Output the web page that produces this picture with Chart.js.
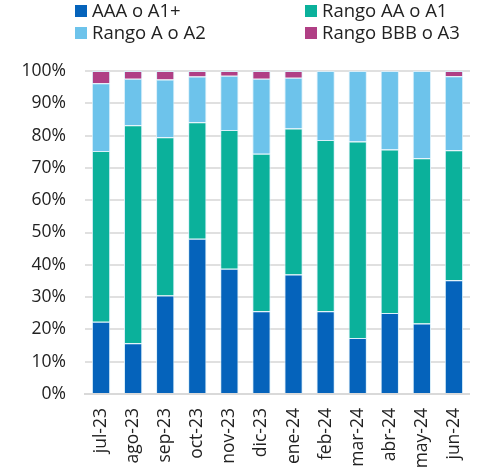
<!DOCTYPE html>
<html>
<head>
<meta charset="utf-8">
<script src="https://cdn.jsdelivr.net/npm/chart.js@4"></script>
<style>
  html, body { margin: 0; padding: 0; background: #fff; }
  #wrap { position: relative; width: 489px; height: 468px; font-family: "Open Sans", "Noto Sans", sans-serif; }
  #legend { position: absolute; left: 0; top: 0; width: 489px; height: 60px; font-size: 18.5px; color: #222; }
  .item { position: absolute; white-space: nowrap; line-height: 22px; }
  .box { display: inline-block; width: 12px; height: 12px; margin-right: 5px; vertical-align: 0px; }
</style>
</head>
<body>
<div id="wrap">
  <canvas id="barChart" width="489" height="468"></canvas>
  <div id="legend"></div>
</div>
<script>
const labels = ['jul-23', 'ago-23', 'sep-23', 'oct-23', 'nov-23', 'dic-23', 'ene-24', 'feb-24', 'mar-24', 'abr-24', 'may-24', 'jun-24'];
const aaa = [22.4, 15.7, 30.5, 48.1, 38.8, 25.6, 37.0, 25.6, 17.3, 25.1, 21.8, 35.2];
const aa  = [52.8, 67.5, 49.0, 36.0, 42.9, 48.8, 45.2, 53.0, 60.9, 50.6, 51.2, 40.3];
const a   = [21.0, 14.4, 17.9, 14.2, 16.8, 23.2, 15.7, 21.4, 21.8, 24.3, 27.0, 22.9];
const bbb = [3.8, 2.4, 2.6, 1.7, 1.5, 2.4, 2.1, 0, 0, 0, 0, 1.6];

const seriesNames = ['AAA o A1+', 'Rango AA o A1', 'Rango A o A2', 'Rango BBB o A3'];
const seriesColors = ['#0563bb', '#0bb19b', '#6dc3eb', '#b03f85'];

// legend laid out in two columns like the original
const legendPos = [[75, -1], [305, -1], [75, 21], [305, 21]];
const legendEl = document.getElementById('legend');
seriesNames.forEach((name, i) => {
  const d = document.createElement('div');
  d.className = 'item';
  d.style.left = legendPos[i][0] + 'px';
  d.style.top = legendPos[i][1] + 'px';
  d.innerHTML = '<span class="box" style="background:' + seriesColors[i] + '"></span>' + name;
  legendEl.appendChild(d);
});

const values = [aaa, aa, a, bbb];
const datasets = values.map((v, i) => ({
  label: seriesNames[i],
  data: v,
  backgroundColor: seriesColors[i],
  borderColor: 'rgba(215,238,250,0.9)',
  borderWidth: 1,
  barPercentage: 0.57,
  categoryPercentage: 1
}));

const tickFont = { family: '"Open Sans", "Noto Sans", sans-serif', size: 17.5 };

new Chart(document.getElementById('barChart').getContext('2d'), {
  type: 'bar',
  data: { labels: labels, datasets: datasets },
  options: {
    responsive: false,
    animation: false,
    layout: { padding: { top: 71, right: 1, left: 0, bottom: 0 } },
    plugins: { legend: { display: false }, tooltip: { enabled: false } },
    scales: {
      x: {
        stacked: true,
        grid: { display: false, drawTicks: false },
        border: { color: '#d9d9d9', width: 2 },
        afterFit: s => { s.height = 74; },
        ticks: {
          minRotation: 90, maxRotation: 90, padding: 14,
          color: '#222',
          font: tickFont
        }
      },
      y: {
        stacked: true,
        min: 0, max: 100,
        grid: { color: '#e0e0e0', lineWidth: 2, drawTicks: false },
        border: { display: false },
        afterFit: s => { s.width = 85; },
        ticks: {
          stepSize: 10, padding: 19,
          color: '#222',
          font: tickFont,
          callback: v => v + '%'
        }
      }
    }
  }
});
</script>
</body>
</html>
